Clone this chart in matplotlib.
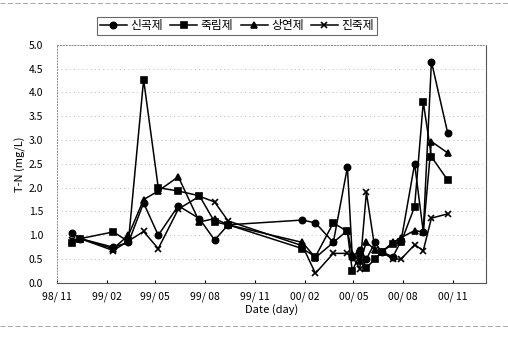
import matplotlib
matplotlib.use("Agg")
import matplotlib.pyplot as plt
import matplotlib.dates as mdates
import pandas as pd

plt.rcParams['font.family'] = ['Noto Sans CJK KR', 'DejaVu Sans']

# 채수일
dates = pd.to_datetime([
    "1998-11-28", "1998-12-14", "1999-02-13", "1999-03-13", "1999-04-10",
    "1999-05-07", "1999-06-13", "1999-07-22", "1999-08-19", "1999-09-13",
    "2000-01-28", "2000-02-21", "2000-03-25", "2000-04-20", "2000-04-29",
    "2000-05-13", "2000-05-25", "2000-06-10", "2000-06-22", "2000-07-13",
    "2000-07-28", "2000-08-22", "2000-09-07", "2000-09-22", "2000-10-22",
])

# T-N (mg/L)
singok = [1.05, 0.93, 0.75, 0.85, 1.68, 1.00, 1.62, 1.35, 0.90, 1.22,
          1.32, 1.26, 0.85, 2.43, 0.55, 0.70, 0.50, 0.85, 0.65, 0.55,
          0.88, 2.50, 1.07, 4.65, 3.15]
jukrim = [0.83, 0.93, 1.07, 0.87, 4.27, 2.00, 1.93, 1.83, 1.28, 1.22,
          0.72, 0.55, 1.26, 1.08, 0.25, 0.60, 0.32, 0.50, 0.65, 0.82,
          0.85, 1.60, 3.80, 2.65, 2.16]
sangyeon = [0.88, 0.93, 0.72, 1.00, 1.75, 1.93, 2.23, 1.28, 1.35, 1.22,
            0.85, 0.53, 0.85, 1.10, 0.60, 0.45, 0.85, 0.70, 0.65, 0.85,
            0.95, 1.10, 1.07, 2.97, 2.73]
jinchuk = [0.90, 0.93, 0.68, 0.88, 1.08, 0.72, 1.55, 1.82, 1.70, 1.30,
           0.78, 0.20, 0.62, 0.62, 0.55, 0.30, 1.90, 0.70, 0.65, 0.50,
           0.50, 0.80, 0.68, 1.36, 1.45]

series = [
    ("신곡제", singok, "o"),
    ("죽림제", jukrim, "s"),
    ("상연제", sangyeon, "^"),
    ("진죽제", jinchuk, "x"),
]

fig = plt.figure(figsize=(5.08, 3.40), dpi=100)
ax = fig.add_axes([0.112, 0.168, 0.845, 0.70])

for name, vals, mk in series:
    ax.plot(dates, vals, color="black", linewidth=1.1, marker=mk,
            markersize=4.5 if mk != "x" else 5, markeredgewidth=1.2,
            markerfacecolor="black", markeredgecolor="black", label=name)

ax.set_xlim(pd.Timestamp("1998-11-01"), pd.Timestamp("2001-01-01"))
ax.set_ylim(0, 5.0)
ax.set_yticks([0.5 * i for i in range(11)])
ax.yaxis.set_major_formatter(plt.FormatStrFormatter("%.1f"))
ax.xaxis.set_major_locator(mdates.MonthLocator(bymonth=[2, 5, 8, 11]))
ax.xaxis.set_major_formatter(mdates.DateFormatter("%y/ %m"))

ax.grid(axis="y", linestyle=(0, (1, 4)), color="#aaaaaa", linewidth=0.6)
ax.tick_params(axis="y", length=0, labelsize=7.5, pad=10)
ax.tick_params(axis="x", length=2, direction="in", labelsize=7.5, pad=6)

for side in ("top", "left"):
    ax.spines[side].set_linestyle((0, (1, 2)))
    ax.spines[side].set_color("#888888")
    ax.spines[side].set_linewidth(0.7)
for side in ("right", "bottom"):
    ax.spines[side].set_color("#555555")
    ax.spines[side].set_linewidth(0.8)

ax.set_xlabel("Date (day)", fontsize=8, labelpad=2)
ax.set_ylabel("T-N (mg/L)", fontsize=8, labelpad=2)

leg = fig.legend(loc="upper left", bbox_to_anchor=(0.18, 0.968), ncol=4,
                 fontsize=8.5, frameon=True, fancybox=False, handlelength=2.3,
                 handletextpad=0.3, columnspacing=0.6, borderpad=0.2,
                 edgecolor="#444444")
leg.get_frame().set_linewidth(0.8)

# 바깥 테두리
fig.add_artist(plt.Line2D([0.0, 1.0], [0.99, 0.99], color="#999999",
                          linewidth=0.6, linestyle=(0, (6, 3))))
fig.add_artist(plt.Line2D([0.0, 1.0], [0.04, 0.04], color="#999999",
                          linewidth=0.6, linestyle=(0, (6, 3))))

fig.savefig("out.png", dpi=100)
